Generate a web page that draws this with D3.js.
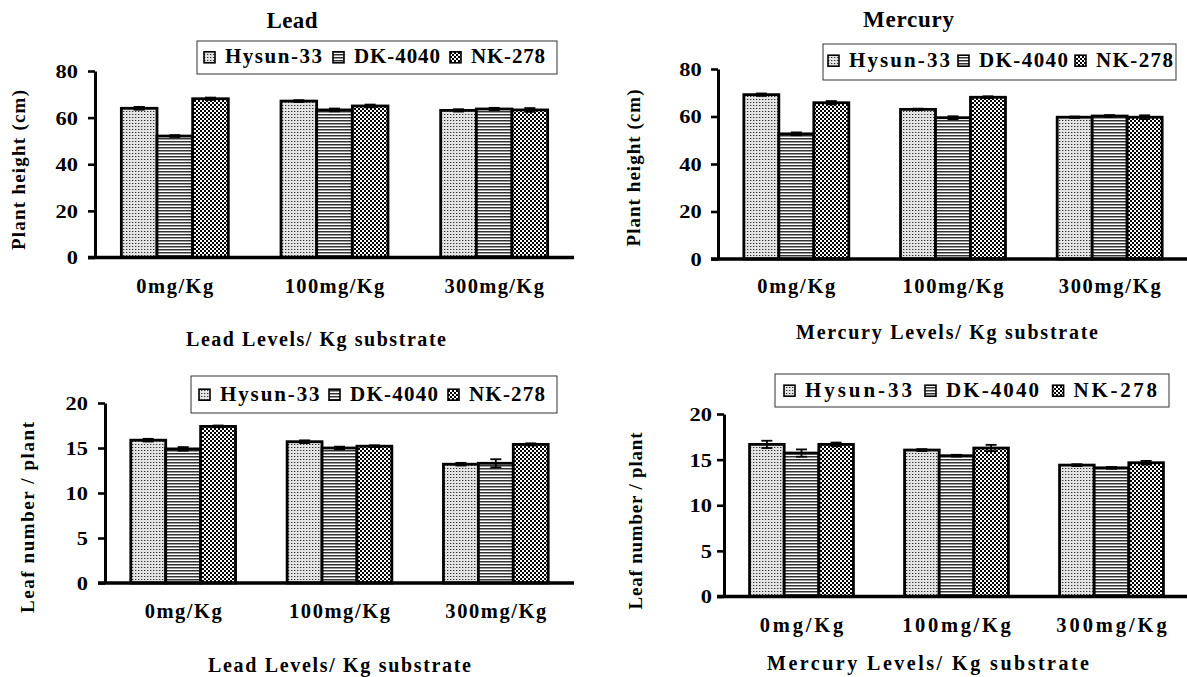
<!DOCTYPE html>
<html><head><meta charset="utf-8">
<script src="https://cdn.jsdelivr.net/npm/d3@7"></script>
<style>
body{margin:0;background:#fff;}
svg text{font-family:"Liberation Serif","Times New Roman",serif;font-weight:bold;fill:#000;}
</style></head><body>
<svg id="c" width="1187" height="677"></svg>
<script>
// ---------- DATA ----------
const categories = ["0mg/Kg", "100mg/Kg", "300mg/Kg"];
const seriesNames = ["Hysun-33", "DK-4040", "NK-278"];
// series-major: [Hysun-33, DK-4040, NK-278] x categories
const leadHeight       = [[64.0, 67.1, 63.1], [52.1, 63.3, 63.7], [68.1, 65.0, 63.3]];
const leadHeightErr    = [[0.6, 0.4, 0.5], [0.4, 0.6, 0.5], [0.5, 0.6, 0.8]];
const mercuryHeight    = [[69.2, 63.0, 59.7], [52.7, 59.5, 60.2], [65.8, 68.1, 59.7]];
const mercuryHeightErr = [[0.5, 0.3, 0.3], [0.6, 0.6, 0.4], [0.7, 0.4, 0.8]];
const leadLeaf         = [[15.87, 15.7, 13.2], [14.9, 15.0, 13.3], [17.4, 15.2, 15.4]];
const leadLeafErr      = [[0.15, 0.15, 0.15], [0.2, 0.15, 0.45], [0.1, 0.1, 0.12]];
const mercuryLeaf      = [[16.67, 16.05, 14.4], [15.72, 15.43, 14.1], [16.67, 16.27, 14.66]];
const mercuryLeafErr   = [[0.4, 0.1, 0.1], [0.4, 0.1, 0.1], [0.2, 0.35, 0.2]];
const heightTicks = [0, 20, 40, 60, 80];
const leafTicks = [0, 5, 10, 15, 20];
const heightTitle = "Plant height (cm)";
const leafTitle = "Leaf number / plant";
const leadXTitle = "Lead Levels/ Kg substrate";
const mercuryXTitle = "Mercury Levels/ Kg substrate";

// ---------- LAYOUT ----------
const layout = [
  {title: "Lead", tx: 292, ty: 27.5, tw: 51,
   xr: [95, 574], yr: [257.5, 71], tickRight: 78, catY: 292.5, catW: [77, 99.5, 99.5],
   xtx: 316, xty: 346, xtw: 260, ytx: 18.5, yty: 170, ytw: 160,
   leg: {box: [197, 41, 360, 33], base: 63.3, items: [[225, 97], [354, 86], [471, 74]]}},
  {title: "Mercury", tx: 908.5, ty: 27, tw: 91,
   xr: [718, 1188], yr: [259, 69], tickRight: 701.7, catY: 293, catW: [78, 101, 102],
   xtx: 947, xty: 339, xtw: 302, ytx: 634, yty: 168, ytw: 157,
   leg: {box: [823, 44, 353, 36], base: 66.7, items: [[849, 101], [979, 89], [1096, 77]]}},
  {title: null,
   xr: [105, 574], yr: [583, 403], tickRight: 88, catY: 618, catW: [77, 101, 101],
   xtx: 339.5, xty: 672, xtw: 263, ytx: 27.5, yty: 517.5, ytw: 191,
   leg: {box: [191, 376, 366, 37], base: 400.7, items: [[220, 99.5], [350, 88], [469, 76]]}},
  {title: null,
   xr: [724, 1189], yr: [596.5, 414], tickRight: 712, catY: 631.7, catW: [83.5, 108.7, 110.5],
   xtx: 928, xty: 670, xtw: 322, ytx: 635.5, yty: 521, ytw: 177,
   leg: {box: [775, 374, 394, 33], base: 396.7, items: [[805, 107], [946, 93], [1073.6, 83.4]]}}
];

const panels = [
  {vals: leadHeight, errs: leadHeightErr, ticks: heightTicks, yt: heightTitle, xt: leadXTitle, L: layout[0]},
  {vals: mercuryHeight, errs: mercuryHeightErr, ticks: heightTicks, yt: heightTitle, xt: mercuryXTitle, L: layout[1]},
  {vals: leadLeaf, errs: leadLeafErr, ticks: leafTicks, yt: leafTitle, xt: leadXTitle, L: layout[2]},
  {vals: mercuryLeaf, errs: mercuryLeafErr, ticks: leafTicks, yt: leafTitle, xt: mercuryXTitle, L: layout[3]}
];

// ---------- PATTERNS ----------
const svg = d3.select("#c");
const defs = svg.append("defs");
const pD = defs.append("pattern").attr("id", "pDots").attr("patternUnits", "userSpaceOnUse").attr("width", 3).attr("height", 3);
pD.append("rect").attr("width", 3).attr("height", 3).attr("fill", "#e4e4e4");
pD.append("rect").attr("width", 1).attr("height", 1).attr("fill", "#333");
pD.append("rect").attr("x", 1).attr("width", 1).attr("height", 1).attr("fill", "#aaa");
const pL = defs.append("pattern").attr("id", "pLines").attr("patternUnits", "userSpaceOnUse").attr("width", 4).attr("height", 3);
pL.append("rect").attr("width", 4).attr("height", 3).attr("fill", "#fff");
pL.append("rect").attr("width", 4).attr("height", 1).attr("fill", "#333");
pL.append("rect").attr("y", 1).attr("width", 4).attr("height", 1).attr("fill", "#999");
const pC = defs.append("pattern").attr("id", "pCheck").attr("patternUnits", "userSpaceOnUse").attr("width", 4).attr("height", 4);
pC.append("rect").attr("width", 4).attr("height", 4).attr("fill", "#000");
pC.append("rect").attr("width", 2).attr("height", 2).attr("fill", "#fff");
pC.append("rect").attr("x", 2).attr("y", 2).attr("width", 2).attr("height", 2).attr("fill", "#fff");
const patIds = ["pDots", "pLines", "pCheck"];

function fitSpacing(sel, w) { sel.attr("textLength", w).attr("lengthAdjust", "spacing"); }

// ---------- DRAW ----------
panels.forEach(p => {
  const L = p.L;
  const g = svg.append("g");
  const x = d3.scaleBand().domain(categories).range(L.xr).paddingInner(0.33).paddingOuter(0.165);
  const xs = d3.scaleBand().domain(seriesNames).range([0, x.bandwidth()]);
  const yMax = p.ticks[p.ticks.length - 1];
  const y = d3.scaleLinear().domain([0, yMax]).range(L.yr);

  const flat = [];
  seriesNames.forEach((s, si) => categories.forEach((c, ci) =>
    flat.push({s, si, c, v: p.vals[si][ci], e: p.errs[si][ci]})));

  // bars
  g.selectAll("rect.bar").data(flat).enter().append("rect").attr("class", "bar")
    .attr("x", d => x(d.c) + xs(d.s))
    .attr("y", d => y(d.v))
    .attr("width", xs.bandwidth())
    .attr("height", d => y(0) - y(d.v))
    .attr("fill", d => `url(#${patIds[d.si]})`)
    .attr("stroke", "#000").attr("stroke-width", 2.8);

  // error bars
  const eb = g.selectAll("g.err").data(flat).enter().append("g").attr("class", "err")
    .attr("stroke", "#000").attr("stroke-width", 1.8);
  const cx = d => x(d.c) + xs(d.s) + xs.bandwidth() / 2;
  eb.append("line").attr("x1", cx).attr("x2", cx).attr("y1", d => y(d.v + d.e)).attr("y2", d => y(d.v - d.e));
  eb.append("line").attr("x1", d => cx(d) - 5.5).attr("x2", d => cx(d) + 5.5).attr("y1", d => y(d.v + d.e)).attr("y2", d => y(d.v + d.e));
  eb.append("line").attr("x1", d => cx(d) - 5.5).attr("x2", d => cx(d) + 5.5).attr("y1", d => y(d.v - d.e)).attr("y2", d => y(d.v - d.e));

  // y axis
  const ax0 = L.xr[0];
  const ya = g.append("g").attr("transform", `translate(${ax0},0)`)
    .call(d3.axisLeft(y).tickValues(p.ticks).tickSize(7).tickSizeOuter(0).tickPadding(ax0 - 7 - L.tickRight));
  ya.select(".domain").attr("stroke", "#000").attr("stroke-width", 3);
  ya.selectAll(".tick line").attr("stroke", "#000").attr("stroke-width", 2.6);
  ya.selectAll(".tick text").attr("font-size", 19).attr("font-family", null).attr("dy", "0.34em")
    .each(function () {
      const w = this.getComputedTextLength();
      d3.select(this).attr("textLength", w * 1.18).attr("lengthAdjust", "spacingAndGlyphs");
    });

  // x axis
  const xa = g.append("g").attr("transform", `translate(0,${y(0)})`)
    .call(d3.axisBottom(x).tickSize(0));
  xa.select(".domain").remove();
  xa.selectAll(".tick text").attr("font-size", 20.5).attr("font-family", null)
    .attr("dy", null).attr("y", L.catY - y(0))
    .each(function (d, i) { fitSpacing(d3.select(this), L.catW[i]); });
  g.append("line").attr("x1", ax0 - 7).attr("x2", L.xr[1]).attr("y1", y(0)).attr("y2", y(0))
    .attr("stroke", "#000").attr("stroke-width", 3.4);

  // titles
  if (L.title) {
    g.append("text").attr("x", L.tx).attr("y", L.ty).attr("text-anchor", "middle")
      .attr("font-size", 23).text(L.title).call(fitSpacing, L.tw);
  }
  g.append("text").attr("x", L.xtx).attr("y", L.xty).attr("text-anchor", "middle")
    .attr("font-size", 20).text(p.xt).call(fitSpacing, L.xtw);
  g.append("text").attr("transform", `translate(${L.ytx},${L.yty}) rotate(-90)`)
    .attr("text-anchor", "middle").attr("dy", "0.33em")
    .attr("font-size", 19).text(p.yt).call(fitSpacing, L.ytw);

  // legend
  const lb = L.leg.box;
  g.append("rect").attr("x", lb[0]).attr("y", lb[1]).attr("width", lb[2]).attr("height", lb[3])
    .attr("fill", "#fff").attr("stroke", "#333").attr("stroke-width", 1);
  seriesNames.forEach((s, si) => {
    const [tx, tw] = L.leg.items[si];
    g.append("rect").attr("x", tx - 21).attr("y", L.leg.base - 11.5).attr("width", 11).attr("height", 11)
      .attr("fill", `url(#${patIds[si]})`).attr("stroke", "#000").attr("stroke-width", 1.6);
    g.append("text").attr("x", tx).attr("y", L.leg.base).attr("font-size", 21).text(s).call(fitSpacing, tw);
  });
});
</script>
</body></html>
